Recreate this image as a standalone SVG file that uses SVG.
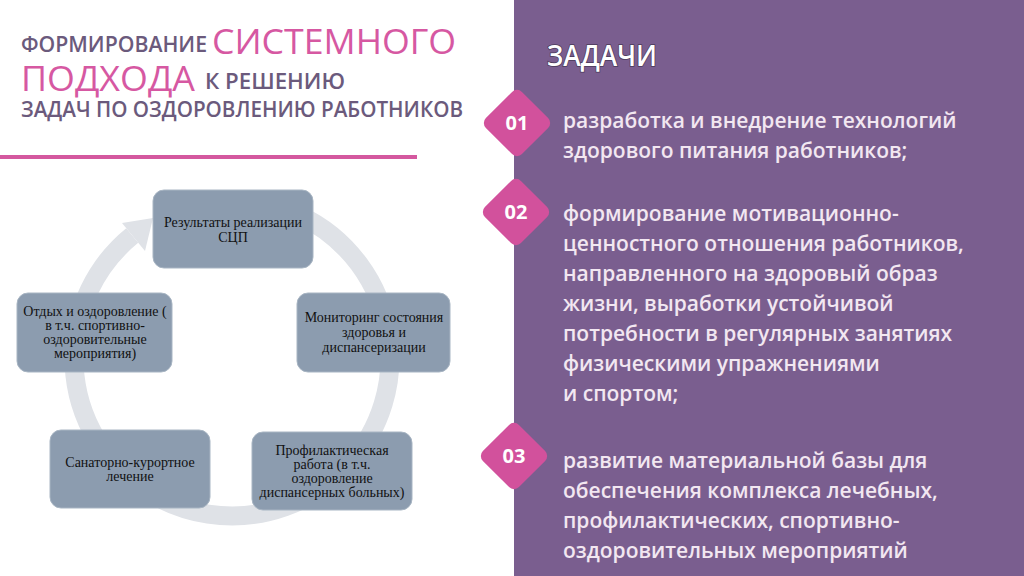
<svg xmlns="http://www.w3.org/2000/svg" width="1024" height="576" viewBox="0 0 1024 576">
<style>
.t1{font-family:"Open Sans","Noto Sans",sans-serif;fill:#6b5a7c;font-weight:600;}
.tp{font-family:"Open Sans","Noto Sans",sans-serif;fill:#d658a2;}
.box{fill:#8c9caf;stroke:#a8b5c3;stroke-width:1;}
.bt{font-family:"Liberation Serif","Times New Roman",serif;font-size:14px;fill:#111;text-anchor:middle;}
.rt{font-family:"Open Sans","Noto Sans",sans-serif;font-size:21px;font-weight:600;fill:#f2e7f1;}
.dia{fill:#d2519c;}
.num{font-family:"Open Sans","Noto Sans",sans-serif;font-size:20px;font-weight:bold;fill:#ffffff;text-anchor:middle;}
</style>
<rect x="0" y="0" width="1024" height="576" fill="#ffffff"/>
<rect x="514" y="0" width="510" height="576" fill="#7a5e8f"/>

<g id="title">
<text class="t1" x="21" y="52" font-size="21" textLength="186" lengthAdjust="spacingAndGlyphs">ФОРМИРОВАНИЕ</text>
<text class="tp" x="212" y="54" font-size="35" textLength="244" lengthAdjust="spacingAndGlyphs">СИСТЕМНОГО</text>
<text class="tp" x="21" y="91" font-size="35" textLength="174" lengthAdjust="spacingAndGlyphs">ПОДХОДА</text>
<text class="t1" x="205" y="89" font-size="21" textLength="140" lengthAdjust="spacingAndGlyphs">К РЕШЕНИЮ</text>
<text class="t1" x="21" y="117" font-size="21" textLength="442" lengthAdjust="spacingAndGlyphs">ЗАДАЧ ПО ОЗДОРОВЛЕНИЮ РАБОТНИКОВ</text>
<line x1="0" y1="157" x2="417" y2="157" stroke="#d4589f" stroke-width="4"/>
</g>

<g id="connectors">
<path d="M 232 200 A 158 158 0 1 1 132.2 235.5" fill="none" stroke="#dfe2e7" stroke-width="19"/>
<polygon points="122,223 145,251 153,218" fill="#dfe2e7"/>
</g>

<g id="node-results">
<rect class="box" x="153" y="190" width="160" height="78" rx="11"/>
<text class="bt" x="233" y="227">Результаты реализации</text>
<text class="bt" x="233" y="242">СЦП</text>
</g>
<g id="node-monitoring">
<rect class="box" x="297" y="293" width="153" height="79" rx="11"/>
<text class="bt" x="374" y="322">Мониторинг состояния</text>
<text class="bt" x="374" y="337">здоровья и</text>
<text class="bt" x="374" y="352">диспансеризации</text>
</g>
<g id="node-prevention">
<rect class="box" x="252" y="432" width="160" height="78" rx="11"/>
<text class="bt" x="332" y="455">Профилактическая</text>
<text class="bt" x="332" y="469">работа (в т.ч.</text>
<text class="bt" x="332" y="483">оздоровление</text>
<text class="bt" x="332" y="497">диспансерных больных)</text>
</g>
<g id="node-sanatorium">
<rect class="box" x="50" y="430" width="160" height="78" rx="11"/>
<text class="bt" x="130" y="467">Санаторно-курортное</text>
<text class="bt" x="130" y="481">лечение</text>
</g>
<g id="node-rest">
<rect class="box" x="17" y="293" width="155" height="79" rx="11"/>
<text class="bt" x="95" y="316">Отдых и оздоровление (</text>
<text class="bt" x="95" y="330">в т.ч. спортивно-</text>
<text class="bt" x="95" y="344">оздоровительные</text>
<text class="bt" x="95" y="358">мероприятия)</text>
</g>

<g id="tasks-header">
<text x="547" y="66" font-family="'Open Sans','Noto Sans',sans-serif" font-size="29" font-weight="600" fill="#ffffff" stroke="#4a3a5a" stroke-width="1.6" paint-order="stroke" textLength="110" lengthAdjust="spacingAndGlyphs">ЗАДАЧИ</text>
</g>

<g id="task-01">
<rect class="dia" x="491.5" y="97.5" width="51" height="51" rx="7" transform="rotate(45 517 123)"/>
<text class="num" x="517" y="130">01</text>
<text class="rt" x="563" y="128"> разработка и внедрение технологий</text>
<text class="rt" x="563" y="158">здорового питания работников;</text>
</g>

<g id="task-02">
<rect class="dia" x="490.5" y="186.5" width="51" height="51" rx="7" transform="rotate(45 516 212)"/>
<text class="num" x="516" y="219">02</text>
<text class="rt" x="563" y="221"> формирование мотивационно-</text>
<text class="rt" x="563" y="251">ценностного отношения работников,</text>
<text class="rt" x="563" y="281">направленного на здоровый образ</text>
<text class="rt" x="563" y="311">жизни, выработки устойчивой</text>
<text class="rt" x="563" y="341">потребности в регулярных занятиях</text>
<text class="rt" x="563" y="371">физическими упражнениями</text>
<text class="rt" x="563" y="401">и спортом;</text>
</g>

<g id="task-03">
<rect class="dia" x="488.5" y="430.5" width="51" height="51" rx="7" transform="rotate(45 514 456)"/>
<text class="num" x="514" y="463">03</text>
<text class="rt" x="563" y="468"> развитие материальной базы для</text>
<text class="rt" x="563" y="498">обеспечения комплекса лечебных,</text>
<text class="rt" x="563" y="528">профилактических, спортивно-</text>
<text class="rt" x="563" y="558">оздоровительных мероприятий</text>
</g>
</svg>
